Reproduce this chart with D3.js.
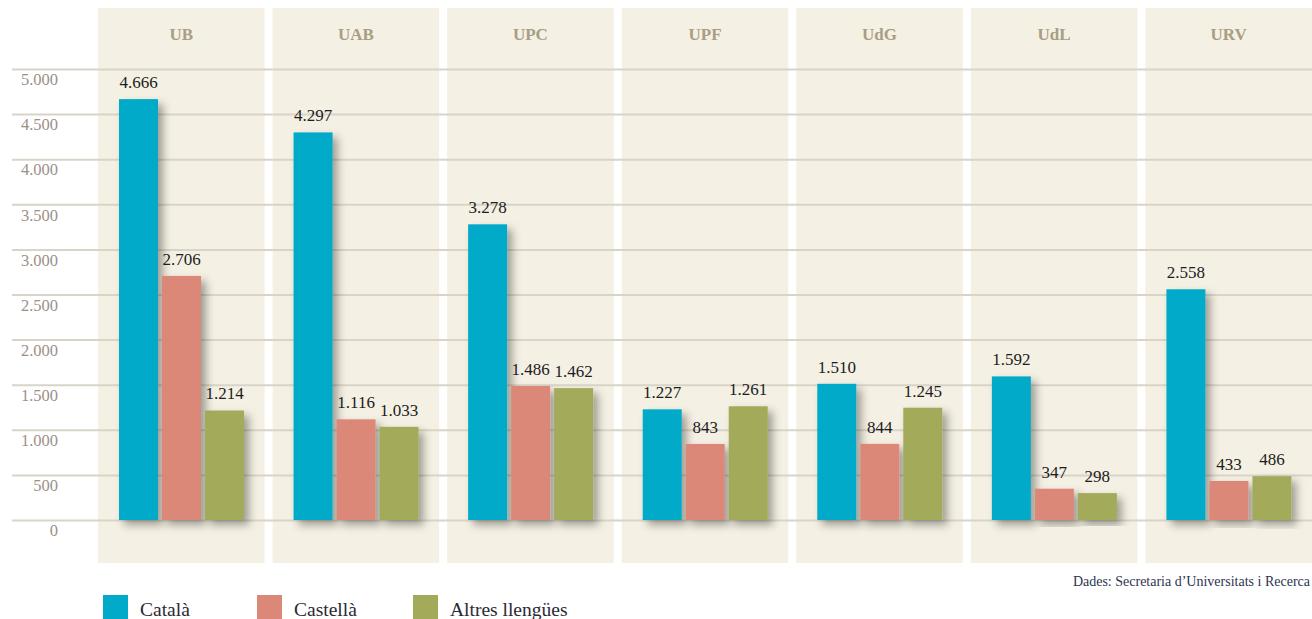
<!DOCTYPE html>
<html lang="ca">
<head>
  <meta charset="UTF-8">
  <title>Estudiants per llengua</title>
  <style>
    body { margin: 0; background: #fff; }
    svg { display: block; font-family: "Liberation Serif", "DejaVu Serif", serif; }
    .tick text { fill: #9b9088; font-size: 16.5px; font-family: "Liberation Serif", serif; }
    .val { fill: #1c1c22; font-size: 17px; }
    .head { fill: #a99d84; font-size: 17px; font-weight: bold; }
  </style>
  <script src="https://cdn.jsdelivr.net/npm/d3@7"></script>
</head>
<body>
<div id="chart"></div>
<script>

var universities = ["UB", "UAB", "UPC", "UPF", "UdG", "UdL", "URV"];
var series = ["Català", "Castellà", "Altres llengües"];
var catala = [4666, 4297, 3278, 1227, 1510, 1592, 2558];
var castella = [2706, 1116, 1486, 843, 844, 347, 433];
var altres = [1214, 1033, 1462, 1261, 1245, 298, 486];
var yTicks = [0, 500, 1000, 1500, 2000, 2500, 3000, 3500, 4000, 4500, 5000];
var colors = ["#00aac8", "#dc8878", "#a3ab5a"];
var source = "Dades: Secretaria d\u2019Universitats i Recerca";

var values = [catala, castella, altres];
var width = 1312, height = 619;

var fmt = d3.formatLocale({ decimal: ",", thousands: ".", grouping: [3] }).format(",d");

var svg = d3.select("#chart").append("svg")
    .attr("width", width)
    .attr("height", height);

var defs = svg.append("defs");
var f = defs.append("filter").attr("id", "shadow")
    .attr("x", "-30%").attr("y", "-10%").attr("width", "180%").attr("height", "130%");
f.append("feDropShadow")
    .attr("dx", 5).attr("dy", 5).attr("stdDeviation", 4.5)
    .attr("flood-color", "#000").attr("flood-opacity", 0.35);

// panels
var x0 = d3.scaleBand()
    .domain(universities)
    .range([98, 1312])
    .paddingInner(8 / 174.5)
    .paddingOuter(0);

var x1 = d3.scaleBand()
    .domain(series)
    .range([21, 21 + 125])
    .paddingInner(4 / 43);

var y = d3.scaleLinear()
    .domain([0, 5000])
    .range([520, 69]);

svg.append("g").selectAll("rect")
    .data(universities)
  .enter().append("rect")
    .attr("x", d => x0(d))
    .attr("y", 8)
    .attr("width", x0.bandwidth())
    .attr("height", 555)
    .attr("fill", "#f4f0e3");

svg.append("g").selectAll("text")
    .data(universities)
  .enter().append("text")
    .attr("class", "head")
    .attr("x", d => x0(d) + x0.bandwidth() / 2)
    .attr("y", 40)
    .attr("text-anchor", "middle")
    .text(d => d);

// grid + y axis
var yAxis = d3.axisLeft(y)
    .tickValues(yTicks)
    .tickSize(0)
    .tickFormat(fmt);

var gy = svg.append("g")
    .attr("transform", "translate(58,0)")
    .call(yAxis)
    .attr("font-family", null)
    .attr("font-size", null);
gy.select(".domain").remove();
gy.selectAll(".tick text")
    .attr("x", 0)
    .attr("dy", "0.35em")
    .attr("transform", "translate(0,10)");

svg.append("g").selectAll("line")
    .data(yTicks)
  .enter().append("line")
    .attr("x1", 12).attr("x2", width)
    .attr("y1", d => y(d) + 0.5).attr("y2", d => y(d) + 0.5)
    .attr("stroke", "#d8d4c8")
    .attr("stroke-width", 2);

// bars
var groups = svg.append("g").selectAll("g")
    .data(universities)
  .enter().append("g")
    .attr("transform", d => "translate(" + x0(d) + ",0)");

groups.selectAll("rect")
    .data((d, i) => series.map((s, j) => ({ s: s, v: values[j][i], c: colors[j] })))
  .enter().append("rect")
    .attr("x", d => x1(d.s))
    .attr("y", d => y(d.v))
    .attr("width", x1.bandwidth())
    .attr("height", d => y(0) - y(d.v))
    .attr("fill", d => d.c)
    .attr("filter", "url(#shadow)");

groups.selectAll("text")
    .data((d, i) => series.map((s, j) => ({ s: s, v: values[j][i] })))
  .enter().append("text")
    .attr("class", "val")
    .attr("x", d => x1(d.s) + x1.bandwidth() / 2)
    .attr("y", d => y(d.v) - 11)
    .attr("text-anchor", "middle")
    .text(d => fmt(d.v));

// source
svg.append("text")
    .attr("x", 1310)
    .attr("y", 586)
    .attr("text-anchor", "end")
    .attr("fill", "#2c3550")
    .attr("font-size", 14)
    .text(source);

// legend
var legendX = [103, 257, 413];
var leg = svg.append("g").selectAll("g")
    .data(series)
  .enter().append("g")
    .attr("transform", (d, i) => "translate(" + legendX[i] + ",595)");
leg.append("rect")
    .attr("width", 25).attr("height", 26)
    .attr("fill", (d, i) => colors[i]);
leg.append("text")
    .attr("x", 37)
    .attr("y", 21)
    .attr("fill", "#2a2a35")
    .attr("font-size", 19.5)
    .text(d => d);

</script>
</body>
</html>
